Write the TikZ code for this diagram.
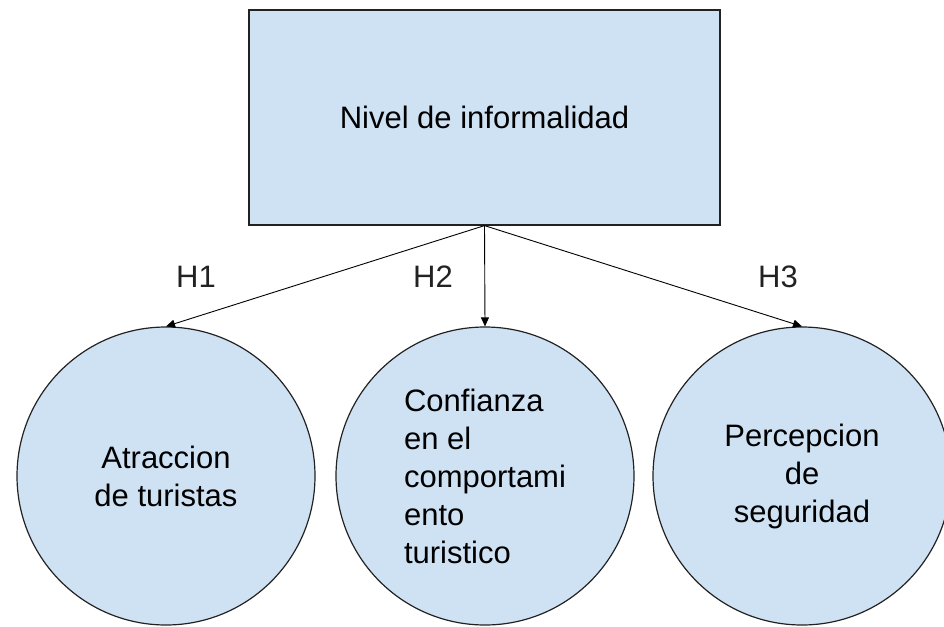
\documentclass[tikz,border=0pt]{standalone}
\usepackage{fontspec}
\setmainfont{Liberation Sans}
\usetikzlibrary{arrows.meta}
\definecolor{paleblue}{HTML}{CFE2F3}
\definecolor{inkgray}{HTML}{222222}
\tikzstyle{varbox} = [draw=inkgray, fill=paleblue, line width=1.2pt,
    rectangle, minimum width=471pt, minimum height=215pt, inner sep=0pt]
\tikzstyle{varcircle} = [draw=inkgray, fill=paleblue, line width=1.2pt,
    circle, minimum size=298pt, inner sep=0pt]
\tikzstyle{hyp} = [draw=black, line width=0.9pt, -{Triangle[length=9pt,width=8pt]}]
\tikzstyle{hyplabel} = [inner sep=0pt, text=inkgray]

\begin{document}
\begin{tikzpicture}[x=1pt, y=-1pt, font=\fontsize{31}{38}\selectfont]
                \useasboundingbox (0,0) rectangle (944,626);
                \node [varbox] (box1) at (484.5,117.5) {Nivel de informalidad};
                \node [varcircle, align=center] (circ1) at (166,476) {Atraccion\\de turistas};
                \node [varcircle, align=left] (circ2) at (485,476) {Confianza\\en el\\comportami\\ento\\turistico};
                \node [varcircle, align=center] (circ3) at (802,476) {Percepcion\\de\\seguridad};
                \draw [hyp] (box1.south) -- (circ1.north);
                \draw [hyp] (box1.south) -- (circ2.north);
                \draw [hyp] (box1.south) -- (circ3.north);
                \node [hyplabel] (h1) at (196,277) {H1};
                \node [hyplabel] (h2) at (433,277) {H2};
                \node [hyplabel] (h3) at (778,277) {H3};
            \end{tikzpicture}
\end{document}
